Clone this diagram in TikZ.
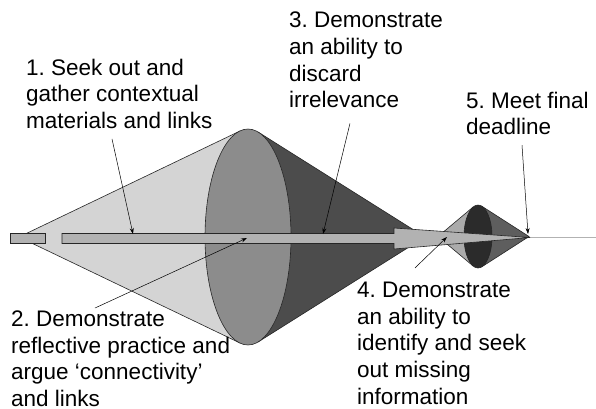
\documentclass[tikz,border=0pt]{standalone}
\usepackage{fontspec}
\setmainfont{Liberation Sans}
\usetikzlibrary{arrows.meta}
\frenchspacing

\begin{document}
\begin{tikzpicture}[
  x=1pt, y=-1pt,
  cone/.style={draw=black!85, line width=0.6pt},
  txt/.style={anchor=north west, inner sep=0pt, align=left, font=\fontsize{22.5}{26.7}\selectfont},
  callout/.style={-{Stealth[length=6pt,width=4pt]}, line width=0.5pt}
]
  \useasboundingbox (0,0) rectangle (596,408);

  % large funnel
  \draw[cone, fill=black!17] (19,237) -- (240,131) -- (240,343) -- cycle;
  \draw[cone, fill=black!70] (425,237) -- (258.4,132.2) -- (258.4,341.8) -- cycle;
  \draw[cone, fill=black!45] (248,237) ellipse [x radius=43pt, y radius=108pt];

  % small funnel
  \draw[cone, fill=black!33] (438,236.5) -- (473.1,207) -- (473.1,266) -- cycle;
  \draw[cone, fill=black!63] (529,236.5) -- (481.8,206.2) -- (481.8,266.8) -- cycle;
  \draw[cone, fill=black!83] (478,236.5) ellipse [x radius=14pt, y radius=31.5pt];

  \draw[black!30, line width=0.8pt] (529,237) -- (596,237);

  % arrow through both funnels
  \draw[cone, fill=black!30] (10,233.5) rectangle (45,243.5);
  \draw[cone, fill=black!30] (62,233.5) -- (394,233.5) -- (394,228) -- (530,237.5)
    -- (394,249) -- (394,243.5) -- (62,243.5) -- cycle;

  \coordinate (p1) at (133,234);
  \coordinate (p2) at (247,238);
  \coordinate (p3) at (323,234);
  \coordinate (p4) at (447,237);
  \coordinate (p5) at (528,234);

  \node[txt] (t1) at (26,58.6) {1. Seek out and\\gather contextual\\materials and links};
  \node[txt] (t2) at (11,310.6) {2. Demonstrate\\reflective practice and\\argue ‘connectivity’\\and links};
  \node[txt] (t3) at (289,11.9) {3. Demonstrate\\an ability to\\discard\\irrelevance};
  \node[txt] (t4) at (357,281.9) {4. Demonstrate\\an ability to\\identify and seek\\out missing\\information};
  \node[txt] (t5) at (466,91.6) {5. Meet final\\deadline};

  \draw[callout] ([xshift=86pt,yshift=-10pt]t1.south west) -- (p1);
  \draw[callout] ([xshift=84pt,yshift=2.6pt]t2.north west) -- (p2);
  \draw[callout] ([xshift=61pt,yshift=-15pt]t3.south west) -- (p3);
  \draw[callout] ([xshift=58pt,yshift=14pt]t4.north west) -- (p4);
  \draw[callout] ([xshift=56pt,yshift=-10pt]t5.south west) -- (p5);
\end{tikzpicture}
\end{document}
